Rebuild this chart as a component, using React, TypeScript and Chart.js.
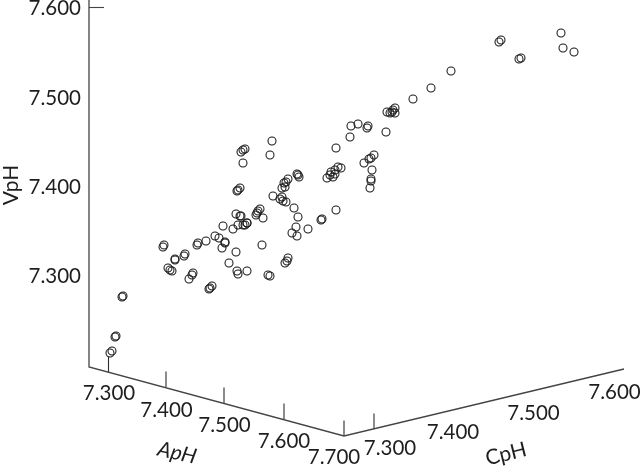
import React, { useEffect, useRef } from "react";
import { Chart, registerables } from "chart.js";

Chart.register(...registerables);

// Scatter readings, in the picture's projected plane (the 3-D cube flattened to 2-D)
const projX = [
  499, 501, 519, 521, 561, 563, 574, 451, 431, 413,
  395, 392, 387, 390, 395, 393, 386, 351, 358, 368, 367, 350, 336,
  374, 371, 369, 364, 372, 371, 371, 370,
  341, 338, 335, 331, 330, 335, 333, 327, 336, 322,
  272, 270, 245, 243, 241, 243, 240, 238, 237,
  297, 298, 299, 288, 286, 284, 282, 285, 273, 282, 280, 283, 286,
  294, 298, 296, 308, 321, 258, 257, 256, 260, 263, 247, 245, 241,
  262, 288, 287, 285, 247, 268, 270, 292, 297,
  236, 240, 223, 233, 238, 243, 247,
  164, 163, 175, 175, 185, 184, 198, 197, 206, 215, 219, 225, 225, 222, 236,
  168, 170, 172, 193, 192, 189, 212, 210, 209, 229, 237, 238,
  122, 123, 115, 116, 110, 112,
];
const projY = [
  42, 40, 59, 58, 33, 48, 52, 71, 88, 99,
  108, 112, 112, 113, 113, 110, 132, 126, 124, 126, 128, 137, 148,
  155, 158, 159, 163, 170, 179, 181, 188,
  168, 167, 170, 172, 175, 174, 177, 178, 210, 219,
  141, 155, 149, 150, 152, 163, 188, 190, 191,
  174, 175, 177, 179, 182, 183, 188, 187, 196, 197, 199, 201, 202,
  208, 217, 227, 229, 220, 211, 213, 215, 209, 218, 223, 225, 216,
  245, 258, 261, 263, 271, 275, 276, 233, 236,
  214, 216, 226, 229, 225, 225, 223,
  245, 247, 259, 260, 254, 256, 243, 245, 241, 236, 238, 242, 243, 248, 252,
  268, 270, 271, 273, 275, 279, 286, 288, 289, 263, 271, 274,
  297, 296, 337, 336, 353, 351,
];

const vTickLabels = ["7.600", "7.500", "7.400", "7.300"];
const vTickX = [89, 89, 89, 89];
const vTickY = [7.5, 97, 186, 275];

const aTickLabels = ["7.300", "7.400", "7.500", "7.600", "7.700"];
const aTickX = [108.5, 166, 224, 284, 344];
const aTickY = [372, 387, 403, 419, 436];
const aLabelX = [109, 166.5, 224.5, 284, 334];
const aLabelY = [393, 410, 425, 441, 457];

const cTickLabels = ["7.300", "7.400", "7.500", "7.600"];
const cTickX = [374, 453, 533, 614];
const cTickY = [429, 410, 391, 372];
const cLabelX = [390, 453, 533.5, 614.5];
const cLabelY = [448, 432, 413, 392];

const axisX = [89, 89, 344, 624];
const axisY = [0, 367, 436, 369];

const axisColor = "#2e2e2e";
const textColor = "#1e1e1e";
const fontFamily = "Lato, 'Open Sans', sans-serif";

function tickSegments(xs: number[], ys: number[], dx: number, dy: number) {
  const out: ({ x: number; y: number } | null)[] = [];
  xs.forEach((x, i) => {
    out.push({ x, y: ys[i] });
    out.push({ x: x + dx, y: ys[i] + dy });
    out.push(null);
  });
  return out;
}

const lineDs = (data: any[], color = axisColor, width = 1.1) => ({
  type: "line" as const,
  data: data.map((p) => p ?? { x: NaN, y: NaN }),
  borderColor: color,
  borderWidth: width,
  pointRadius: 0,
  spanGaps: false,
  tension: 0,
  parsing: false as const,
  order: 2,
});

const textPlugin = {
  id: "cubeText",
  afterDatasetsDraw(chart: any) {
    const { ctx, scales } = chart;
    const px = (v: number) => scales.x.getPixelForValue(v);
    const py = (v: number) => scales.y.getPixelForValue(v);
    const put = (t: string, x: number, y: number, size: number, rot = 0, align: CanvasTextAlign = "center", italic = false) => {
      ctx.save();
      ctx.translate(px(x), py(y));
      ctx.rotate((rot * Math.PI) / 180);
      ctx.font = `${italic ? "italic " : ""}${size}px ${fontFamily}`;
      ctx.fillStyle = textColor;
      ctx.textAlign = align;
      ctx.textBaseline = "middle";
      ctx.fillText(t, 0, 0);
      ctx.restore();
    };
    vTickLabels.forEach((t, i) => put(t, 81, vTickY[i] + 1, 20.5, 0, "right"));
    aTickLabels.forEach((t, i) => put(t, aLabelX[i], aLabelY[i], 20.5));
    cTickLabels.forEach((t, i) => put(t, cLabelX[i], cLabelY[i], 20.5));
    put("VpH", 11, 185, 21, -90);
    put("ApH", 177, 453, 21, 13, "center", true);
    put("CpH", 506, 454, 21, -14);
  },
};

export default function App() {
  const ref = useRef<HTMLCanvasElement>(null);
  useEffect(() => {
    document.body.style.margin = "0";
    const chart = new Chart(ref.current!, {
      type: "scatter",
      data: {
        datasets: [
          {
            type: "scatter",
            data: projX.map((x, i) => ({ x, y: projY[i] })),
            pointStyle: "circle",
            pointRadius: 4,
            pointBorderWidth: 1.05,
            pointBorderColor: "#1a1a1a",
            pointBackgroundColor: "rgba(0,0,0,0)",
            order: 1,
          } as any,
          lineDs(axisX.map((x, i) => ({ x, y: axisY[i] })), "#444444", 1.3),
          lineDs(tickSegments(vTickX, vTickY, 15, 0), "#444444", 1.1),
          lineDs(tickSegments(aTickX, aTickY, 0, -15.5)),
          lineDs(tickSegments(cTickX, cTickY, 0, -15.5)),
        ],
      },
      options: {
        responsive: false,
        animation: false,
        layout: { padding: 0, autoPadding: false },
        plugins: { legend: { display: false }, tooltip: { enabled: false } },
        scales: {
          x: { type: "linear", display: false, min: 0, max: 640 },
          y: { type: "linear", display: false, min: 0, max: 467, reverse: true },
        },
      },
      plugins: [textPlugin],
    });
    return () => chart.destroy();
  }, []);
  return <canvas ref={ref} width={640} height={467} style={{ display: "block" }} />;
}
